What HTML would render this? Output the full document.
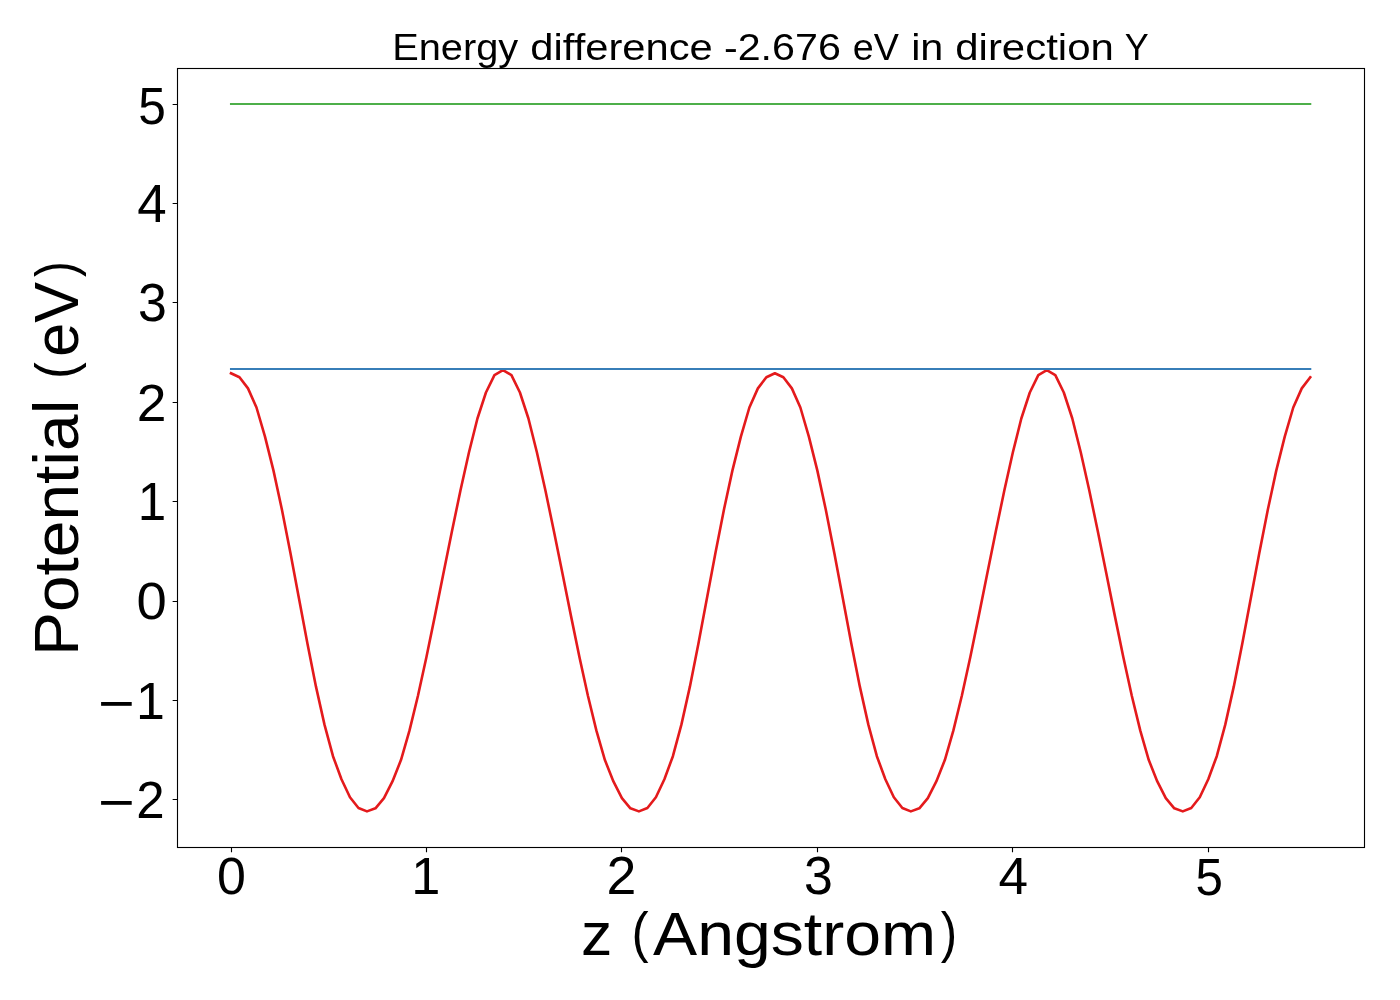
<!DOCTYPE html>
<html><head><meta charset="utf-8"><title>Energy difference</title>
<style>html,body{margin:0;padding:0;background:#fff;width:1400px;height:1000px;overflow:hidden}svg{display:block;will-change:transform}text{fill:#000;font-family:"Liberation Sans",sans-serif}</style>
</head><body>
<svg width="1400" height="1000" viewBox="0 0 1400 1000">
<rect x="0" y="0" width="1400" height="1000" fill="#fff"/>
<polyline points="231.00,373.30 239.50,377.20 248.00,388.40 256.49,407.50 264.99,436.65 273.49,470.63 281.99,509.91 290.49,553.14 298.98,598.53 307.48,643.84 315.98,686.64 324.48,724.64 332.98,756.18 341.47,779.20 349.97,797.30 358.47,808.00 366.97,811.40 375.47,808.30 383.96,798.20 392.46,781.40 400.96,760.03 409.46,730.68 417.96,695.81 426.45,656.93 434.95,615.63 443.45,573.33 451.95,531.24 460.45,490.50 468.94,452.51 477.44,418.50 485.94,392.50 494.44,375.10 502.94,370.20 511.43,375.10 519.93,392.50 528.43,418.50 536.93,452.51 545.43,490.50 553.92,531.24 562.42,573.33 570.92,615.63 579.42,656.93 587.92,695.81 596.41,730.68 604.91,760.03 613.41,781.40 621.91,798.20 630.41,808.30 638.90,811.40 647.40,808.00 655.90,797.30 664.40,779.20 672.90,756.18 681.39,724.64 689.89,686.64 698.39,643.84 706.89,598.53 715.39,553.14 723.88,509.91 732.38,470.63 740.88,436.65 749.38,407.50 757.88,388.40 766.37,377.20 774.87,373.30 783.37,377.20 791.87,388.40 800.37,407.50 808.86,436.65 817.36,470.63 825.86,509.91 834.36,553.14 842.86,598.53 851.35,643.84 859.85,686.64 868.35,724.64 876.85,756.18 885.35,779.20 893.84,797.30 902.34,808.00 910.84,811.40 919.34,808.30 927.84,798.20 936.33,781.40 944.83,760.03 953.33,730.68 961.83,695.81 970.33,656.93 978.82,615.63 987.32,573.33 995.82,531.24 1004.32,490.50 1012.82,452.51 1021.31,418.50 1029.81,392.50 1038.31,375.10 1046.81,370.20 1055.31,375.10 1063.80,392.50 1072.30,418.50 1080.80,452.51 1089.30,490.50 1097.80,531.24 1106.29,573.33 1114.79,615.63 1123.29,656.93 1131.79,695.81 1140.29,730.68 1148.78,760.03 1157.28,781.40 1165.78,798.20 1174.28,808.30 1182.78,811.40 1191.27,808.00 1199.77,797.30 1208.27,779.20 1216.77,756.18 1225.27,724.64 1233.76,686.64 1242.26,643.84 1250.76,598.53 1259.26,553.14 1267.76,509.91 1276.25,470.63 1284.75,436.65 1293.25,407.50 1301.75,388.40 1310.25,377.20" fill="none" stroke="#e41a1c" stroke-width="2.6" stroke-linejoin="round" stroke-linecap="square"/>
<line x1="231.0" y1="369" x2="1310.25" y2="369" stroke="#377eb8" stroke-width="2.083" stroke-linecap="square"/>
<line x1="231.0" y1="104" x2="1310.25" y2="104" stroke="#4daf4a" stroke-width="2.083" stroke-linecap="square"/>
<rect x="177.5" y="68.5" width="1187" height="779" fill="none" stroke="#000" stroke-width="1.111" stroke-linejoin="miter"/>
<path d="M172.64 104.5H177.5M172.64 203.5H177.5M172.64 302.5H177.5M172.64 402.5H177.5M172.64 501.5H177.5M172.64 601.5H177.5M172.64 700.5H177.5M172.64 799.5H177.5M231.5 847.5V852.36M426.5 847.5V852.36M621.5 847.5V852.36M817.5 847.5V852.36M1012.5 847.5V852.36M1208.5 847.5V852.36" stroke="#000" stroke-width="1.111" fill="none"/>
<text transform="matrix(1.0583 0 0 1.0058 392.13 59.90)" font-size="37.6">Energy</text>
<text transform="matrix(1.1101 0 0 1.0058 530.33 59.90)" font-size="37.6">difference</text>
<text transform="matrix(1.0961 0 0 1.0058 723.98 59.90)" font-size="37.6">-2.676</text>
<text transform="matrix(1.0034 0 0 1.0058 852.69 59.90)" font-size="37.6">eV</text>
<text transform="matrix(1.1010 0 0 1.0058 911.15 59.90)" font-size="37.6">in</text>
<text transform="matrix(1.1159 0 0 1.0058 955.23 59.90)" font-size="37.6">direction</text>
<text transform="matrix(0.9565 0 0 1.0058 1124.64 59.90)" font-size="37.6">Y</text>
<text transform="matrix(1.0039 0 0 0.9907 580.89 954.60)" font-size="62.4">z</text>
<text transform="matrix(0.8246 0 0 0.8987 631.50 950.77)" font-size="62.4">(</text>
<text transform="matrix(1.0606 0 0 0.9907 653.03 954.60)" font-size="62.4">Angstrom</text>
<text transform="matrix(0.7879 0 0 0.8987 940.71 950.77)" font-size="62.4">)</text>
<text transform="matrix(0 -1.0557 0.9942 0 78.25 656.03)" font-size="62.4">Potential</text>
<text transform="matrix(0 -0.8000 0.9013 0 73.78 378.70)" font-size="62.4">(</text>
<text transform="matrix(0 -0.9809 0.9942 0 78.25 356.80)" font-size="62.4">eV</text>
<text transform="matrix(0 -0.7576 0.9013 0 73.78 276.88)" font-size="62.4">)</text>
<text transform="matrix(0.9360 0 0 0.9865 138.29 124.11)"  font-size="53">5</text>
<text transform="matrix(0.9981 0 0 0.9973 137.25 222.40)"  font-size="53">4</text>
<text transform="matrix(0.9782 0 0 1.0000 138.04 321.20)"  font-size="53">3</text>
<text transform="matrix(1.0083 0 0 0.9919 136.73 421.20)"  font-size="53">2</text>
<text transform="matrix(0.9652 0 0 1.0055 137.64 520.20)"  font-size="53">1</text>
<text transform="matrix(1.0275 0 0 0.9947 136.45 619.00)"  font-size="53">0</text>
<text transform="matrix(0.9783 0 0 0.9945 136.09 719.00)"  font-size="53">1</text>
<text transform="matrix(0.9625 0 0 0.9838 136.35 817.80)"  font-size="53">2</text>
<text transform="matrix(0.9804 0 0 0.9920 217.04 894.10)"  font-size="53">0</text>
<text transform="matrix(0.9870 0 0 0.9945 411.25 894.30)"  font-size="53">1</text>
<text transform="matrix(1.0125 0 0 1.0054 606.52 894.30)"  font-size="53">2</text>
<text transform="matrix(0.9782 0 0 1.0027 804.04 894.10)"  font-size="53">3</text>
<text transform="matrix(1.0019 0 0 0.9945 998.55 894.30)"  font-size="53">4</text>
<text transform="matrix(0.9300 0 0 0.9865 1195.41 895.01)"  font-size="53">5</text>
<rect x="101.1" y="702.0" width="30.60" height="3.80" fill="#000"/>
<rect x="101.1" y="801.0" width="30.60" height="3.80" fill="#000"/>
</svg>
</body></html>
